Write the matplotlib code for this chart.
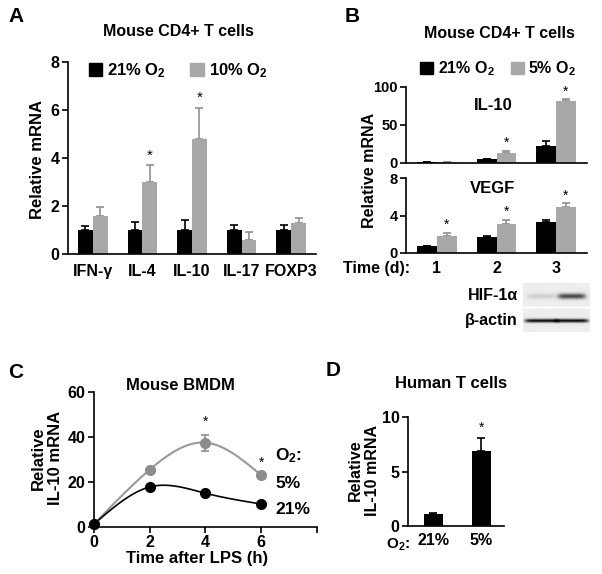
import numpy as np
import matplotlib
matplotlib.use('Agg')
import matplotlib.pyplot as plt
from matplotlib.patches import Rectangle

plt.rcParams['font.family'] = ['Liberation Sans', 'DejaVu Sans']
plt.rcParams['font.weight'] = 'bold'
plt.rcParams['mathtext.fontset'] = 'custom'
plt.rcParams['mathtext.rm'] = 'Liberation Sans:bold'
plt.rcParams['mathtext.bf'] = 'Liberation Sans:bold'
plt.rcParams['mathtext.it'] = 'Liberation Sans:bold'
plt.rcParams['mathtext.default'] = 'rm'
plt.rcParams['axes.linewidth'] = 1.2

# ---------------- Data ----------------
a_genes = ['IFN-γ', 'IL-4', 'IL-10', 'IL-17', 'FOXP3']
a_21 = [1.0, 1.0, 1.0, 1.0, 1.0]
a_21_err = [0.15, 0.33, 0.4, 0.2, 0.2]
a_10 = [1.6, 3.0, 4.8, 0.6, 1.3]
a_10_err = [0.35, 0.7, 1.3, 0.3, 0.2]
a_sig = [False, True, True, False, False]

b_days = ['1', '2', '3']
b_il10_21 = [0.8, 5.0, 22.0]
b_il10_21_err = [0.3, 0.6, 7.0]
b_il10_5 = [0.8, 13.0, 81.5]
b_il10_5_err = [0.3, 3.0, 2.5]
b_vegf_21 = [0.75, 1.7, 3.3]
b_vegf_21_err = [0.05, 0.15, 0.25]
b_vegf_5 = [1.8, 3.1, 4.9]
b_vegf_5_err = [0.35, 0.45, 0.4]
b_il10_sig = [False, True, True]
b_vegf_sig = [True, True, True]
blot_hif = [0.12, 0.65]
blot_actin = [0.9, 0.9]

c_time = [0, 2, 4, 6]
c_5 = [1.3, 25.5, 37.5, 23.0]
c_5_err = [0, 0, 3.6, 0]
c_21 = [1.3, 17.8, 15.0, 10.2]
c_sig = [False, False, True, True]

d_labels = ['21%', '5%']
d_vals = [1.1, 6.9]
d_err = [0.05, 1.15]
d_sig = [False, True]

BLACK = '#000000'
GRAY = '#a8a8a8'

W, H = 602, 574
fig = plt.figure(figsize=(W / 100, H / 100), dpi=100)


def rect(x0, y0, x1, y1):
    return [x0 / W, 1 - y1 / H, (x1 - x0) / W, (y1 - y0) / H]


def ftext(x, y, s, **kw):
    fig.text(x / W, 1 - y / H, s, **kw)


def style(ax, fs=11, xt=False, xpad=3):
    for s in ['top', 'right']:
        ax.spines[s].set_visible(False)
    ax.tick_params(axis='y', direction='out', length=4, width=1.2, labelsize=fs, pad=2)
    ax.tick_params(axis='x', direction='out', length=4 if xt else 0, width=1.2, labelsize=fs, pad=xpad)


def natural_spline(x, y, n=200):
    x = np.asarray(x, float); y = np.asarray(y, float)
    k = len(x)
    h = np.diff(x)
    A = np.zeros((k, k)); r = np.zeros(k)
    A[0, 0] = A[-1, -1] = 1
    for i in range(1, k - 1):
        A[i, i - 1] = h[i - 1]; A[i, i] = 2 * (h[i - 1] + h[i]); A[i, i + 1] = h[i]
        r[i] = 6 * ((y[i + 1] - y[i]) / h[i] - (y[i] - y[i - 1]) / h[i - 1])
    M = np.linalg.solve(A, r)
    xs = np.linspace(x[0], x[-1], n)
    idx = np.clip(np.searchsorted(x, xs) - 1, 0, k - 2)
    x0, x1 = x[idx], x[idx + 1]; hh = x1 - x0
    ys = (M[idx] * (x1 - xs) ** 3 / (6 * hh) + M[idx + 1] * (xs - x0) ** 3 / (6 * hh)
          + (y[idx] / hh - M[idx] * hh / 6) * (x1 - xs) + (y[idx + 1] / hh - M[idx + 1] * hh / 6) * (xs - x0))
    return xs, ys


def bars(ax, pos, vals, errs, color, width):
    ax.bar(pos, vals, width=width, color=color, edgecolor='none', zorder=2)
    ax.errorbar(pos, vals, yerr=[np.zeros(len(vals)), errs], fmt='none', ecolor=color if color != GRAY else '#909090',
                elinewidth=1.2, capsize=3, capthick=1.2, zorder=1)


# ---------------- Panel A ----------------
axA = fig.add_axes(rect(68, 62, 316, 254))
xa = np.arange(len(a_genes))
bw = 0.3
bars(axA, xa - bw / 2, a_21, a_21_err, BLACK, bw)
bars(axA, xa + bw / 2, a_10, a_10_err, GRAY, bw)
for i, s in enumerate(a_sig):
    if s:
        axA.text(xa[i] + bw / 2, a_10[i] + a_10_err[i] + 0.1, '*', ha='center', va='bottom', fontsize=11, fontweight='normal')
axA.set_xlim(-0.5, 4.5)
axA.set_ylim(0, 8)
axA.set_yticks([0, 2, 4, 6, 8])
axA.set_xticks(xa)
axA.set_xticklabels(a_genes)
style(axA, fs=11.5, xpad=7)
hA = [Rectangle((0, 0), 1, 1, color=BLACK), Rectangle((0, 0), 1, 1, color=GRAY)]
axA.legend(hA, ['21% O$_2$', '10% O$_2$'], ncol=2, frameon=False, loc='upper left',
           bbox_to_anchor=(0.024, 1.08), handlelength=0.8, handleheight=0.8, handletextpad=0.3,
           columnspacing=1.45, prop={'size': 12, 'weight': 'bold'})
ftext(37, 159, 'Relative mRNA', rotation=90, ha='center', va='center', fontsize=12)
ftext(178, 32, 'Mouse CD4+ T cells', ha='center', va='center', fontsize=11.5)
ftext(16, 17, 'A', ha='center', va='center', fontsize=15)

# ---------------- Panel B ----------------
xb = np.arange(1, 4)
bwb = 0.33
axB1 = fig.add_axes(rect(406, 87, 587, 163))
bars(axB1, xb - bwb / 2, b_il10_21, b_il10_21_err, BLACK, bwb)
bars(axB1, xb + bwb / 2, b_il10_5, b_il10_5_err, GRAY, bwb)
for i, s in enumerate(b_il10_sig):
    if s:
        axB1.text(xb[i] + bwb / 2, b_il10_5[i] + b_il10_5_err[i] + 1, '*', ha='center', va='bottom', fontsize=10, fontweight='normal')
axB1.set_xlim(0.48, 3.52)
axB1.set_ylim(0, 100)
axB1.set_yticks([0, 50, 100])
axB1.set_xticks([])
style(axB1, fs=10.5)
axB1.text(0.48, 0.75, 'IL-10', transform=axB1.transAxes, ha='center', va='center', fontsize=12)

axB2 = fig.add_axes(rect(406, 178, 587, 253))
bars(axB2, xb - bwb / 2, b_vegf_21, b_vegf_21_err, BLACK, bwb)
bars(axB2, xb + bwb / 2, b_vegf_5, b_vegf_5_err, GRAY, bwb)
for i, s in enumerate(b_vegf_sig):
    if s:
        axB2.text(xb[i] + bwb / 2, b_vegf_5[i] + b_vegf_5_err[i] + 0.1, '*', ha='center', va='bottom', fontsize=10, fontweight='normal')
axB2.set_xlim(0.48, 3.52)
axB2.set_ylim(0, 8)
axB2.set_yticks([0, 4, 8])
axB2.set_xticks(xb)
axB2.set_xticklabels(b_days)
style(axB2, fs=11.5, xpad=6)
axB2.tick_params(axis='y', labelsize=10.5)
axB2.text(0.48, 0.86, 'VEGF', transform=axB2.transAxes, ha='center', va='center', fontsize=12)

hB = [Rectangle((0, 0), 1, 1, color=BLACK), Rectangle((0, 0), 1, 1, color=GRAY)]
axB1.legend(hB, ['21% O$_2$', '5% O$_2$'], ncol=2, frameon=False, loc='lower left',
            bbox_to_anchor=(0.0, 0.93), handlelength=0.8, handleheight=0.8, handletextpad=0.3,
            columnspacing=1.0, prop={'size': 11.5, 'weight': 'bold'})
ftext(370, 170, 'Relative mRNA', rotation=90, ha='center', va='center', fontsize=11.5)
ftext(499, 33, 'Mouse CD4+ T cells', ha='center', va='center', fontsize=11.5)
ftext(352, 17, 'B', ha='center', va='center', fontsize=15)
ftext(343, 269, 'Time (d):', ha='left', va='center', fontsize=11.5)

# Western blot (band rendering from intensities)
axW = fig.add_axes(rect(523, 283, 590, 332))
ny, nx = 50, 68
yy = np.arange(ny)[:, None]
xx = np.arange(nx)[None, :]
img = np.full((ny, nx), 0.93)
img[24:26, :] = 1.0
lane_cx = [nx * 0.27, nx * 0.72]
lane_w = nx * 0.21
for li, cx in enumerate(lane_cx):
    lane = np.exp(-((xx - cx) / lane_w) ** 6)
    hif_band = blot_hif[li] * np.exp(-((yy - 13) / 2.8) ** 2) * lane
    act_band = blot_actin[li] * np.exp(-((yy - 38) / 1.8) ** 2) * np.exp(-((xx - cx) / (lane_w * 1.2)) ** 8)
    img = img - hif_band * (yy < 24) - act_band * (yy > 25)
img = np.clip(img, 0, 1)
axW.imshow(img, cmap='gray', vmin=0, vmax=1, aspect='auto', interpolation='bilinear')
axW.axis('off')
ftext(518, 295, 'HIF-1α', ha='right', va='center', fontsize=11.5)
ftext(518, 321, 'β-actin', ha='right', va='center', fontsize=11.5)

# ---------------- Panel C ----------------
axC = fig.add_axes(rect(94, 392, 317, 527))
xs, ys = natural_spline(c_time, c_5)
axC.plot(xs, ys, color='#999999', lw=1.5, zorder=2)
xs, ys = natural_spline(c_time, c_21)
axC.plot(xs, ys, color=BLACK, lw=1.2, zorder=2)
axC.errorbar(c_time, c_5, yerr=c_5_err, fmt='o', color='#8c8c8c', ms=7, elinewidth=1.2, capsize=3, capthick=1.2, zorder=3)
axC.plot(c_time, c_21, 'o', color=BLACK, ms=7, zorder=4)
for i, s in enumerate(c_sig):
    if s:
        axC.text(c_time[i], c_5[i] + c_5_err[i] + 2.5, '*', ha='center', va='bottom', fontsize=10, fontweight='normal')
axC.set_xlim(0, 8)
axC.set_ylim(0, 60)
axC.set_xticks([0, 2, 4, 6, 8])
axC.set_xticklabels(['0', '2', '4', '6', ''])
axC.set_yticks([0, 20, 40, 60])
style(axC, fs=11.5, xt=True, xpad=2)
for ln in axC.lines:
    ln.set_clip_on(False)
ftext(197, 558, 'Time after LPS (h)', ha='center', va='center', fontsize=12)
ftext(47, 458, 'Relative\nIL-10 mRNA', rotation=90, ha='center', va='center', fontsize=12, linespacing=1.15)
ftext(180, 385, 'Mouse BMDM', ha='center', va='center', fontsize=12)
ftext(16, 372, 'C', ha='center', va='center', fontsize=15)
ftext(275, 456, 'O$_2$:', ha='left', va='center', fontsize=12.5)
ftext(275, 484, '5%', ha='left', va='center', fontsize=12.5)
ftext(275, 510, '21%', ha='left', va='center', fontsize=12.5)

# ---------------- Panel D ----------------
axD = fig.add_axes(rect(408, 417, 504, 526))
xd = np.arange(len(d_labels))
axD.bar(xd, d_vals, width=0.4, color=BLACK, zorder=2)
axD.errorbar(xd, d_vals, yerr=[np.zeros(len(d_vals)), d_err], fmt='none', ecolor=BLACK, elinewidth=1.2,
             capsize=3, capthick=1.2, zorder=1)
for i, s in enumerate(d_sig):
    if s:
        axD.text(xd[i], d_vals[i] + d_err[i] + 0.3, '*', ha='center', va='bottom', fontsize=10, fontweight='normal')
axD.set_xlim(-0.53, 1.47)
axD.set_ylim(0, 10)
axD.set_yticks([0, 5, 10])
axD.set_xticks(xd)
axD.set_xticklabels(d_labels)
style(axD, fs=11.5, xpad=5)
ftext(398, 545, 'O$_2$:', ha='center', va='center', fontsize=11)
ftext(364, 470, 'Relative\nIL-10 mRNA', rotation=90, ha='center', va='center', fontsize=11.5, linespacing=1.15)
ftext(451, 383, 'Human T cells', ha='center', va='center', fontsize=12)
ftext(333, 370, 'D', ha='center', va='center', fontsize=15)

fig.savefig('out.png', dpi=100)
